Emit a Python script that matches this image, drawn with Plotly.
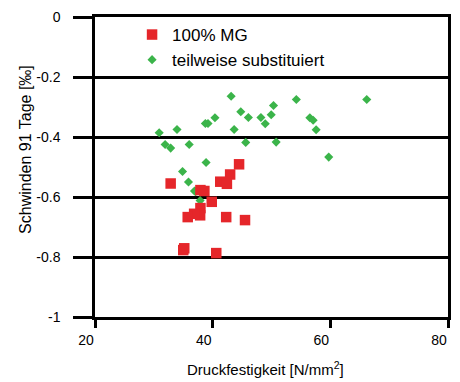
import plotly.graph_objects as go

# Compressive strength [N/mm²] and 91-day shrinkage [‰]
mg_strength = [32.86, 44.49, 42.97, 41.29, 42.42, 37.92, 38.59, 39.84, 37.92, 37.87,
               36.85, 35.76, 42.30, 45.50, 35.00, 35.17, 40.61]
mg_shrinkage = [-0.555, -0.491, -0.525, -0.549, -0.556, -0.577, -0.580, -0.616, -0.637, -0.661,
                -0.656, -0.667, -0.667, -0.677, -0.777, -0.771, -0.787]

sub_strength = [43.14, 44.78, 46.07, 48.20, 48.94, 49.95, 50.34, 40.39, 38.76, 39.21,
                43.65, 33.94, 30.91, 31.92, 32.86, 36.01, 45.62, 50.79, 38.88, 34.88,
                35.89, 36.91, 37.87, 37.10, 54.22, 66.19, 56.52, 57.08, 57.59, 59.73]
sub_shrinkage = [-0.264, -0.316, -0.335, -0.335, -0.356, -0.326, -0.295, -0.336, -0.355, -0.355,
                 -0.375, -0.375, -0.386, -0.425, -0.437, -0.425, -0.418, -0.417, -0.485, -0.515,
                 -0.550, -0.580, -0.612, -0.582, -0.275, -0.275, -0.336, -0.344, -0.376, -0.467]

x_ticks = [20, 40, 60, 80]
y_ticks = [0, -0.2, -0.4, -0.6, -0.8, -1]
y_tick_labels = ["0", "-0.2", "-0.4", "-0.6", "-0.8", "-1"]

RED = "#e5262a"
GREEN = "#3bb44a"
FONT = "Liberation Sans, Arial, sans-serif"

fig = go.Figure()
fig.add_trace(go.Scatter(
    x=sub_strength, y=sub_shrinkage, mode="markers", name="teilweise substituiert",
    marker=dict(symbol="diamond", size=7, color=GREEN, line=dict(width=0)),
    legendrank=2,
))
fig.add_trace(go.Scatter(
    x=mg_strength, y=mg_shrinkage, mode="markers", name="100% MG",
    marker=dict(symbol="square", size=10.5, color=RED, line=dict(width=0)),
    legendrank=1,
))

fig.update_layout(
    width=460, height=382,
    margin=dict(l=95, r=9, t=13, b=65),
    paper_bgcolor="white", plot_bgcolor="white",
    font=dict(family=FONT, size=14, color="black"),
    showlegend=True,
    legend=dict(
        x=0.105, y=1.0, xanchor="left", yanchor="top",
        bgcolor="rgba(0,0,0,0)", font=dict(size=17, family=FONT),
        itemsizing="trace",
    ),
    xaxis=dict(
        range=[20, 80], tickvals=x_ticks, ticktext=[str(v) for v in x_ticks],
        ticks="outside", ticklen=8, tickwidth=2.5, tickcolor="black",
        showline=True, linewidth=2.5, linecolor="black", mirror=True,
        showgrid=False, zeroline=False, ticklabelshift=-9,
        tickfont=dict(size=14),
    ),
    yaxis=dict(
        range=[-1, 0], tickvals=y_ticks, ticktext=y_tick_labels,
        ticks="outside", ticklen=19, tickwidth=2.5, tickcolor="black",
        showline=True, linewidth=2.5, linecolor="black", mirror=True,
        showgrid=True, gridcolor="black", gridwidth=2.5, zeroline=False,
        tickfont=dict(size=14), ticklabelstandoff=10,
    ),
    annotations=[
        dict(text="Schwinden 91 Tage [‰]", xref="paper", yref="paper",
             x=-0.195, y=0.5576, textangle=-90, showarrow=False,
             xanchor="center", yanchor="middle", font=dict(size=16)),
        dict(text="Druckfestigkeit [N/mm<sup>2</sup>]", xref="paper", yref="paper",
             x=0.482, y=-0.172, showarrow=False,
             xanchor="center", yanchor="middle", font=dict(size=15)),
    ],
)

fig.write_html("out.html")
